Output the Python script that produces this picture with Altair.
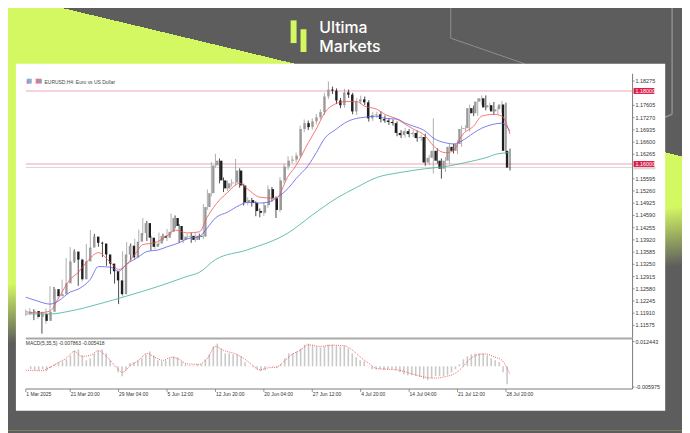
import altair as alt
import pandas as pd

# ---------------- data ----------------
closes = [
    1.1195, 1.1197, 1.1181, 1.1189, 1.1170, 1.1195, 1.1257, 1.1238, 1.1243, 1.1273,
    1.1333, 1.1360, 1.1338, 1.1284, 1.1333, 1.1371, 1.1401, 1.1384, 1.1382, 1.1352,
    1.1327, 1.1306, 1.1281, 1.1243, 1.1352, 1.1376, 1.1344, 1.1387, 1.1411, 1.1438,
    1.1398, 1.1373, 1.1382, 1.1403, 1.1398, 1.1414, 1.1452, 1.1430, 1.1392, 1.1401,
    1.1403, 1.1392, 1.1403, 1.1401, 1.1482, 1.1520, 1.1596, 1.1609, 1.1555, 1.1533,
    1.1547, 1.1549, 1.1582, 1.1541, 1.1495, 1.1501, 1.1493, 1.1471, 1.1466, 1.1487,
    1.1531, 1.1506, 1.1474, 1.1555, 1.1593, 1.1609, 1.1612, 1.1623, 1.1696, 1.1712,
    1.1701, 1.1717, 1.1728, 1.1742, 1.1785, 1.1804, 1.1801, 1.1774, 1.1761, 1.1796,
    1.1790, 1.1744, 1.1771, 1.1777, 1.1769, 1.1725, 1.1734, 1.1736, 1.1723, 1.1719,
    1.1715, 1.1712, 1.1685, 1.1679, 1.1690, 1.1682, 1.1685, 1.1671, 1.1674, 1.1604,
    1.1617, 1.1636, 1.1609, 1.1587, 1.1609, 1.1647, 1.1636, 1.1655, 1.1696, 1.1698,
    1.1753, 1.1739, 1.1771, 1.1780, 1.1755, 1.1761, 1.1744, 1.1750, 1.1763, 1.1636,
    1.1590]
first_open = 1.1190
upper_wick_pips = [
    6, 8, 5, 7, 6, 9, 8, 6, 7, 10,
    9, 12, 6, 5, 8, 10, 18, 7, 6, 5,
    6, 5, 6, 5, 9, 10, 6, 8, 9, 14,
    6, 5, 8, 9, 6, 8, 12, 7, 5, 8,
    6, 9, 7, 6, 8, 10, 9, 19, 6, 8,
    7, 9, 32, 6, 5, 8, 6, 5, 7, 9,
    10, 6, 5, 9, 8, 12, 10, 8, 9, 10,
    7, 8, 9, 8, 10, 22, 8, 6, 7, 10,
    8, 5, 9, 10, 8, 6, 9, 7, 8, 10,
    6, 7, 5, 8, 9, 6, 8, 7, 6, 9,
    8, 89, 7, 6, 10, 9, 8, 10, 9, 8,
    10, 7, 9, 8, 8, 7, 9, 8, 10, 5,
    6]
lower_wick_pips = [
    7, 8, 9, 6, 35, 8, 6, 9, 7, 6,
    8, 7, 9, 18, 6, 7, 8, 6, 9, 7,
    6, 8, 9, 27, 6, 8, 9, 7, 6, 8,
    9, 10, 7, 6, 8, 9, 7, 6, 8, 9,
    7, 8, 6, 9, 7, 8, 9, 6, 8, 10,
    7, 9, 8, 6, 9, 8, 10, 14, 12, 8,
    7, 9, 22, 6, 8, 9, 7, 8, 6, 9,
    8, 7, 9, 6, 8, 7, 9, 10, 8, 7,
    9, 8, 10, 7, 8, 9, 7, 8, 9, 6,
    8, 7, 9, 8, 7, 9, 8, 10, 8, 9,
    7, 43, 8, 27, 9, 8, 7, 9, 8, 6,
    9, 8, 7, 9, 8, 7, 9, 8, 10, 9,
    8]

red_idx = [0, 3, 6, 8, 11, 13, 15, 18, 21, 23, 25, 27, 29, 32, 35, 37, 40, 43, 45, 48,
           50, 53, 55, 58, 62, 65, 67, 70, 72, 74, 77, 79, 82, 84, 87, 89, 92, 94, 96, 99,
           101, 104, 106, 108, 111, 113, 116, 118, 120]
red_val = [1.1195, 1.1192, 1.1197, 1.1230, 1.1284, 1.1303, 1.1330, 1.1357, 1.1330, 1.1311,
           1.1325, 1.1352, 1.1379, 1.1384, 1.1403, 1.1419, 1.1411, 1.1414, 1.1455, 1.1501,
           1.1522, 1.1547, 1.1531, 1.1509, 1.1506, 1.1566, 1.1596, 1.1658, 1.1696, 1.1739,
           1.1766, 1.1771, 1.1771, 1.1758, 1.1750, 1.1736, 1.1723, 1.1709, 1.1696, 1.1677,
           1.1650, 1.1631, 1.1636, 1.1677, 1.1704, 1.1731, 1.1736, 1.1731, 1.1682]
blue_idx = [0, 3, 6, 8, 11, 13, 16, 18, 21, 23, 25, 28, 30, 33, 35, 38, 40, 43, 45, 47,
            50, 53, 55, 58, 60, 62, 65, 67, 70, 72, 74, 77, 79, 82, 84, 87, 89, 92, 94, 96,
            99, 101, 104, 106, 108, 111, 113, 116, 118, 120]
blue_val = [1.1235, 1.1224, 1.1216, 1.1224, 1.1249, 1.1257, 1.1284, 1.1319, 1.1317, 1.1306,
            1.1325, 1.1346, 1.1360, 1.1365, 1.1373, 1.1384, 1.1395, 1.1401, 1.1425, 1.1452,
            1.1468, 1.1487, 1.1495, 1.1493, 1.1495, 1.1506, 1.1533, 1.1560, 1.1596, 1.1631,
            1.1669, 1.1696, 1.1712, 1.1725, 1.1728, 1.1731, 1.1725, 1.1723, 1.1712, 1.1704,
            1.1690, 1.1671, 1.1658, 1.1655, 1.1663, 1.1685, 1.1698, 1.1709, 1.1712, 1.1690]
teal_idx = [0, 6, 11, 18, 25, 33, 40, 43, 47, 55, 65, 71, 77, 82, 87, 93, 99, 104, 109, 114, 117, 120]
teal_val = [1.1189, 1.1189, 1.1197, 1.1216, 1.1238, 1.1265, 1.1292, 1.1303, 1.1338, 1.1365,
            1.1411, 1.1460, 1.1506, 1.1536, 1.1563, 1.1577, 1.1587, 1.1593, 1.1604, 1.1617,
            1.1628, 1.1631]

macd_hist = [
    -0.0015, -0.0020, -0.0020, -0.0015, -0.0025, -0.0010, 0.0010, 0.0020, 0.0025, 0.0035,
    0.0055, 0.0080, 0.0085, 0.0055, 0.0030, 0.0040, 0.0065, 0.0080, 0.0085, 0.0065,
    0.0030, 0.0003, -0.0030, -0.0050, -0.0020, 0.0015, 0.0020, 0.0030, 0.0040, 0.0060,
    0.0075, 0.0055, 0.0030, 0.0025, 0.0030, 0.0040, 0.0050, 0.0045, 0.0025, 0.0010,
    0.0005, 0.0005, 0.0010, 0.0010, 0.0035, 0.0060, 0.0100, 0.0114, 0.0090, 0.0065,
    0.0065, 0.0060, 0.0060, 0.0050, 0.0020, 0.0002, -0.0005, -0.0015, -0.0025, -0.0020,
    0.0003, -0.0003, -0.0010, 0.0010, 0.0040, 0.0065, 0.0065, 0.0075, 0.0090, 0.0109,
    0.0114, 0.0104, 0.0100, 0.0095, 0.0100, 0.0109, 0.0109, 0.0104, 0.0100, 0.0104,
    0.0090, 0.0065, 0.0045, 0.0030, 0.0025, 0.0003, -0.0015, -0.0015, -0.0015, -0.0020,
    -0.0015, -0.0015, -0.0020, -0.0030, -0.0040, -0.0045, -0.0045, -0.0050, -0.0055, -0.0065,
    -0.0070, -0.0060, -0.0050, -0.0050, -0.0050, -0.0045, -0.0030, -0.0015, 0.0010, 0.0035,
    0.0050, 0.0060, 0.0065, 0.0065, 0.0065, 0.0055, 0.0040, 0.0030, 0.0020, -0.0030,
    -0.0090]
sig_idx = [0, 4, 6, 8, 10, 12, 14, 16, 18, 20, 22, 24, 26, 28, 30, 32, 34, 36, 38, 40,
           43, 45, 47, 49, 52, 54, 56, 58, 60, 62, 64, 66, 68, 70, 73, 76, 79, 81, 83, 85,
           87, 90, 93, 96, 99, 101, 104, 106, 108, 110, 112, 114, 116, 118, 120]
sig_val = [-0.0020, -0.0022, -0.0005, 0.0018, 0.0040, 0.0075, 0.0050, 0.0055, 0.0078, 0.0050,
           0.0005, -0.0030, 0.0005, 0.0030, 0.0065, 0.0045, 0.0030, 0.0045, 0.0035, 0.0012,
           0.0010, 0.0040, 0.0100, 0.0080, 0.0062, 0.0040, 0.0008, -0.0018, -0.0008, -0.0005,
           0.0025, 0.0060, 0.0080, 0.0108, 0.0100, 0.0106, 0.0103, 0.0080, 0.0045, 0.0015,
           -0.0012, -0.0015, -0.0022, -0.0040, -0.0055, -0.0060, -0.0052, -0.0040, -0.0010, 0.0035,
           0.0058, 0.0062, 0.0048, 0.0030, -0.0040]

# price-axis labels that the reference shows (the two hidden under the level tags are left out)
price_ticks = [1.18275, 1.17605, 1.17270, 1.16935, 1.16600, 1.16265,
               1.15595, 1.15260, 1.14925, 1.14590, 1.14255, 1.13920, 1.13585, 1.13250,
               1.12915, 1.12580, 1.12245, 1.11910, 1.11575]
level_prices = [1.18000, 1.16000]
bid_price = 1.15905
macd_label_pos = [0.012443, -0.01044]
macd_label_txt = ["0.012443", "-0.005975"]
time_idx = [0, 11, 23, 35, 47, 59, 71, 83, 95, 107, 119]
time_labels = ["1 Mar 2025", "21 Mar 20:00", "29 Mar 04:00", "5 Jun 12:00", "12 Jun 20:00",
               "20 Jun 04:00", "27 Jun 12:00", "4 Jul 20:00", "14 Jul 04:00", "21 Jul 12:00",
               "28 Jul 20:00"]

# ---------------- tables ----------------
opens = [first_open] + closes[:-1]
cd = pd.DataFrame({"i": list(range(len(closes))), "open": opens, "close": closes,
                   "uw": upper_wick_pips, "lw": lower_wick_pips, "macd": macd_hist})
cd["high"] = cd[["open", "close"]].max(axis=1) + cd["uw"] * 0.0001
cd["low"] = cd[["open", "close"]].min(axis=1) - cd["lw"] * 0.0001
cd["dir"] = ["up" if c >= o else "down" for o, c in zip(cd["open"], cd["close"])]
cd["zero"] = 0.0

red_df = pd.DataFrame({"i": red_idx, "v": red_val})
blue_df = pd.DataFrame({"i": blue_idx, "v": blue_val})
teal_df = pd.DataFrame({"i": teal_idx, "v": teal_val})
sig_df = pd.DataFrame({"i": sig_idx, "v": sig_val})
pt_df = pd.DataFrame({"p": price_ticks, "lab": [f"{p:.5f}" for p in price_ticks]})
lv_df = pd.DataFrame({"p": level_prices, "lab": [f"{p:.5f}" for p in level_prices]})
bid_df = pd.DataFrame({"p": [bid_price]})
ml_df = pd.DataFrame({"v": macd_label_pos, "lab": macd_label_txt})
tm_df = pd.DataFrame({"i": time_idx, "lab": time_labels})
one = pd.DataFrame({"a": [0]})

# ---------------- scales (pixel ranges inside the page) ----------------
XS = alt.Scale(domain=[0, 150.38], range=[18, 632], nice=False, zero=False)
YP = alt.Scale(domain=[1.11296, 1.184727], range=[329, 64], nice=False, zero=False)
YM = alt.Scale(domain=[-0.01044, 0.012443], range=[381, 335], nice=False, zero=False)

GRAY = "#5d5d5d"
LIME = "#d4f862"
FONT = "Liberation Sans"

def X(field="i"):
    return alt.X(f"{field}:Q", scale=XS, axis=None)

def Y(field, sc=YP):
    return alt.Y(f"{field}:Q", scale=sc, axis=None)

def box(x, x2, y, y2, color, **kw):
    return alt.Chart(one).mark_rect(color=color, **kw).encode(
        x=alt.value(x), x2=alt.value(x2), y=alt.value(y), y2=alt.value(y2))

def seg(x, y, x2, y2, color, w=1.0):
    return alt.Chart(one).mark_rule(color=color, strokeWidth=w).encode(
        x=alt.value(x), y=alt.value(y), x2=alt.value(x2), y2=alt.value(y2))

def label(x, y, txt, **kw):
    return alt.Chart(one).mark_text(**kw).encode(
        x=alt.value(x), y=alt.value(y), text=alt.value(txt))

# ---------------- background ----------------
lime_grad = alt.LinearGradient(
    gradient="linear", x1=0.0616, y1=-0.0093, x2=0.0545, y2=0.0093,
    stops=[alt.GradientStop(color=GRAY, offset=0), alt.GradientStop(color=GRAY, offset=0.5),
           alt.GradientStop(color=LIME, offset=0.5), alt.GradientStop(color=LIME, offset=1)])
fade_grad = alt.LinearGradient(
    gradient="linear", x1=0.0, y1=0.66, x2=0.025, y2=0.795,
    stops=[alt.GradientStop(color="rgba(93,93,93,0)", offset=0),
           alt.GradientStop(color=GRAY, offset=1)])

bg1 = alt.Chart(one).mark_rect(fill=lime_grad).encode(
    x=alt.value(-8), x2=alt.value(682), y=alt.value(-8), y2=alt.value(425))
bg2 = alt.Chart(one).mark_rect(fill=fade_grad).encode(
    x=alt.value(-8), x2=alt.value(682), y=alt.value(-8), y2=alt.value(425))

deco = [
    seg(448, -8, 448, 28, "#8e8e8e", 1),
    seg(448, 28, 523, 54, "#8e8e8e", 1),
    seg(672, -8, 672, 105, "#8e8e8e", 1.5),
    seg(672, 105, 665, 108, "#8e8e8e", 1.5),
]

logo = [
    box(286, 292, 10, 33, LIME),
    box(296, 302, 19, 42, LIME),
    label(315, 23, "Ultima", font="Inter", fontSize=16, fontWeight=500, color="white",
          align="left", baseline="alphabetic"),
    label(315, 42, "Markets", font="Inter", fontSize=16, fontWeight=500, color="white",
          align="left", baseline="alphabetic"),
]

panel = box(8, 665, 54, 405, "white")

# ---------------- header inside panel ----------------
header = [
    box(19, 24, 69, 74, "#7fb0e0"),
    box(19, 21, 71, 74, "#e87878"),
    box(28, 34, 69, 74, "#e87878"),
    box(31, 34, 70, 73, "#6fa6dc"),
    label(37, 72, "EURUSD,H4:  Euro vs US Dollar", font=FONT, fontSize=5, color="#444",
          align="left", baseline="middle"),
]

# ---------------- main price pane ----------------
levels = alt.Chart(lv_df).mark_rule(color="#f2a3b5", strokeWidth=1).encode(
    y=Y("p"), x=alt.value(18), x2=alt.value(632))
bidline = alt.Chart(bid_df).mark_rule(color="#d6d6d6", strokeWidth=1).encode(
    y=Y("p"), x=alt.value(18), x2=alt.value(632))

cscale = alt.Scale(domain=["up", "down"], range=["#9a9a9a", "#1e1e1e"])
wicks = alt.Chart(cd).mark_rule(strokeWidth=0.8).encode(
    x=X(), y=Y("low"), y2="high:Q",
    color=alt.Color("dir:N", scale=cscale, legend=None))
bodies = alt.Chart(cd).mark_bar(size=2.4).encode(
    x=X(), y=Y("open"), y2="close:Q",
    color=alt.Color("dir:N", scale=cscale, legend=None))

ma_teal = alt.Chart(teal_df).mark_line(color="#55b7a8", strokeWidth=0.9, interpolate="monotone").encode(
    x=X(), y=Y("v"))
ma_blue = alt.Chart(blue_df).mark_line(color="#5b5bea", strokeWidth=0.8, interpolate="monotone").encode(
    x=X(), y=Y("v"))
ma_red = alt.Chart(red_df).mark_line(color="#f05555", strokeWidth=0.8, interpolate="monotone").encode(
    x=X(), y=Y("v"))

# price axis
axis_v = seg(632, 64, 632, 383, "#7a7a7a", 1)
pticks = alt.Chart(pt_df).mark_rule(color="#7a7a7a", strokeWidth=0.8).encode(
    y=Y("p"), x=alt.value(632), x2=alt.value(634))
plabels = alt.Chart(pt_df).mark_text(font=FONT, fontSize=5.5, color="#333", align="left",
                                     baseline="middle").encode(
    y=Y("p"), x=alt.value(635), text="lab:N")
bidtag = alt.Chart(bid_df).mark_rule(color="#d8d8d8", strokeWidth=4).encode(
    y=Y("p"), x=alt.value(633), x2=alt.value(655))
tags = alt.Chart(lv_df).mark_rule(color="#dc1e48", strokeWidth=6).encode(
    y=Y("p"), x=alt.value(633), x2=alt.value(654))
tagtext = alt.Chart(lv_df).mark_text(font=FONT, fontSize=5.5, color="white", align="left",
                                     baseline="middle").encode(
    y=Y("p"), x=alt.value(635), text="lab:N")

# ---------------- MACD pane ----------------
sep = seg(18, 332, 632, 332, "#a9a9a9", 2)
hist = alt.Chart(cd).mark_bar(size=1.6, color="#c9c9c9").encode(
    x=X(), y=Y("macd", YM), y2="zero:Q")
sig = alt.Chart(sig_df).mark_line(color="#f05050", strokeWidth=0.9, strokeDash=[1, 1.2],
                                  interpolate="monotone").encode(x=X(), y=Y("v", YM))
macd_title = label(18, 336.5, "MACD(5,35,5) -0.007863 -0.005418", font=FONT, fontSize=5,
                   color="#333", align="left", baseline="middle")
mlabels = alt.Chart(ml_df).mark_text(font=FONT, fontSize=5.5, color="#333", align="left",
                                     baseline="middle").encode(
    y=Y("v", YM), x=alt.value(635), text="lab:N")
mticks = alt.Chart(ml_df).mark_rule(color="#7a7a7a", strokeWidth=0.8).encode(
    y=Y("v", YM), x=alt.value(632), x2=alt.value(634))

# ---------------- time axis ----------------
axis_h = seg(18, 383, 632, 383, "#7a7a7a", 1)
tticks = alt.Chart(tm_df).mark_rule(color="#7a7a7a", strokeWidth=0.8).encode(
    x=X(), y=alt.value(383), y2=alt.value(386))
tlabels = alt.Chart(tm_df).mark_text(font=FONT, fontSize=5, color="#333", align="left",
                                     baseline="middle", dx=0.5).encode(
    x=X(), y=alt.value(388), text="lab:N")

layers = ([bg1, bg2] + deco + logo + [panel] + header +
          [levels, bidline, wicks, bodies, ma_teal, ma_blue, ma_red,
           axis_v, pticks, plabels, bidtag, tags, tagtext,
           sep, hist, sig, macd_title, mlabels, mticks,
           axis_h, tticks, tlabels])

chart = alt.layer(*layers).resolve_scale(
    x="independent", y="independent", color="independent"
).properties(
    width=682, height=425,
    autosize=alt.AutoSizeParams(type="none"),
    padding=0,
    background=GRAY,
).configure_view(stroke=None)

chart.save("out.html", embed_options={"renderer": "svg", "actions": False})
